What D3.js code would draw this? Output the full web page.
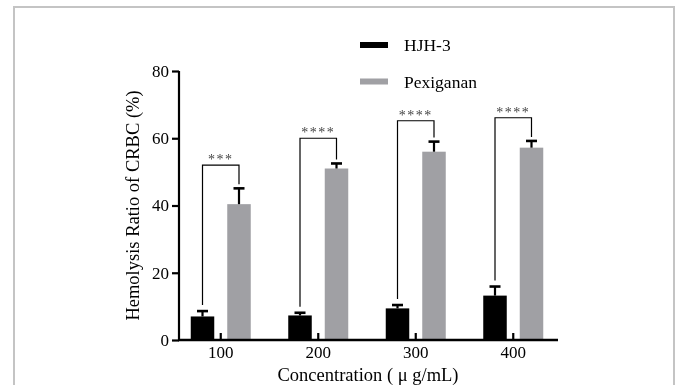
<!DOCTYPE html>
<html>
<head>
<meta charset="utf-8">
<script src="https://cdn.jsdelivr.net/npm/d3@7"></script>
<style>
  html, body { margin: 0; padding: 0; background: #fff; }
  svg { display: block; will-change: transform; }
  svg text { font-family: "Liberation Serif", "Times New Roman", serif; }
</style>
</head>
<body>
<div id="chart"></div>
<script>
// concentrations on the x axis
const categories = ['100', '200', '300', '400'];
const seriesNames = ['HJH-3', 'Pexiganan'];

// mean hemolysis ratio (%) and upper error (mean + SD)
const hjhValues = [7.0, 7.3, 9.4, 13.2];
const hjhErrors = [8.6, 8.1, 10.4, 15.9];
const pexValues = [40.4, 51.0, 56.0, 57.2];
const pexErrors = [45.1, 52.5, 59.0, 59.2];

// significance brackets: level of the top bar and stars
const sigTops = [52, 60, 65.2, 66.1];
const sigLabels = ['***', '****', '****', '****'];

const yTicks = [0, 20, 40, 60, 80];
const colors = {'HJH-3': '#000000', 'Pexiganan': '#a0a0a4'};

const W = 681, H = 385;
const svg = d3.select('#chart').append('svg')
  .attr('width', W)
  .attr('height', H);

// outer frame (no bottom edge visible)
svg.append('path')
  .attr('d', `M14,${H} L14,7 L674,7 L674,${H}`)
  .attr('fill', 'none')
  .attr('stroke', '#c4c4c4')
  .attr('stroke-width', 2);

const yScale = d3.scaleLinear().domain([0, 80]).range([340, 71]);
const xScale = d3.scaleBand().domain(categories).range([172, 562]);
const sub = d3.scaleBand().domain(seriesNames).range([-30, 30]).paddingInner(0.356);
const cx = c => xScale(c) + xScale.bandwidth() / 2;

const data = categories.map((c, i) => ({
  cat: c,
  bars: [
    {name: 'HJH-3', value: hjhValues[i], err: hjhErrors[i]},
    {name: 'Pexiganan', value: pexValues[i], err: pexErrors[i]}
  ],
  sig: sigTops[i],
  label: sigLabels[i]
}));

// y axis
const yAxis = svg.append('g')
  .attr('transform', 'translate(179,0)')
  .call(d3.axisLeft(yScale).tickValues(yTicks).tickSize(7).tickPadding(3).tickFormat(d3.format('d')));
yAxis.select('.domain').attr('stroke-width', 2.2).attr('d', `M0,${yScale(80)}V${yScale(0)}`);
yAxis.selectAll('.tick line').attr('stroke-width', 2.2);
yAxis.selectAll('.tick text').attr('font-size', 17).attr('fill', '#000');

// bars
const groups = svg.append('g').selectAll('g')
  .data(data)
  .join('g')
  .attr('transform', d => `translate(${cx(d.cat)},0)`);

groups.selectAll('rect')
  .data(d => d.bars)
  .join('rect')
  .attr('x', d => sub(d.name))
  .attr('y', d => yScale(d.value))
  .attr('width', sub.bandwidth())
  .attr('height', d => yScale(0) - yScale(d.value))
  .attr('fill', d => colors[d.name]);

// error bars (upper only)
groups.selectAll('line.err')
  .data(d => d.bars)
  .join('line')
  .attr('class', 'err')
  .attr('x1', d => sub(d.name) + sub.bandwidth() / 2)
  .attr('x2', d => sub(d.name) + sub.bandwidth() / 2)
  .attr('y1', d => yScale(d.value))
  .attr('y2', d => yScale(d.err))
  .attr('stroke', '#000')
  .attr('stroke-width', 2.2);

groups.selectAll('line.cap')
  .data(d => d.bars)
  .join('line')
  .attr('class', 'cap')
  .attr('x1', d => sub(d.name) + sub.bandwidth() / 2 - 5.5)
  .attr('x2', d => sub(d.name) + sub.bandwidth() / 2 + 5.5)
  .attr('y1', d => yScale(d.err))
  .attr('y2', d => yScale(d.err))
  .attr('stroke', '#000')
  .attr('stroke-width', 2.6);

// significance brackets
groups.append('path')
  .attr('d', d => {
    const xl = sub('HJH-3') + sub.bandwidth() / 2;
    const xr = sub('Pexiganan') + sub.bandwidth() / 2;
    return `M${xl},${yScale(d.bars[0].err) - 6}V${yScale(d.sig)}H${xr}V${yScale(d.bars[1].err) - 4}`;
  })
  .attr('fill', 'none')
  .attr('stroke', '#000')
  .attr('stroke-width', 1.2);

groups.append('text')
  .attr('x', 0)
  .attr('y', d => yScale(d.sig) - 1)
  .attr('text-anchor', 'middle')
  .attr('font-size', 14)
  .attr('letter-spacing', 1.5)
  .attr('fill', '#444')
  .text(d => d.label);

// x axis
const xAxis = svg.append('g')
  .attr('transform', `translate(0,${yScale(0)})`)
  .call(d3.axisBottom(xScale).tickSize(0).tickPadding(6));
xAxis.select('.domain').attr('stroke-width', 2.4).attr('d', 'M178,0H558');
xAxis.selectAll('.tick text').attr('font-size', 17).attr('fill', '#000');
xAxis.selectAll('.tick').append('line')
  .attr('y1', 0).attr('y2', -7)
  .attr('stroke', '#000')
  .attr('stroke-width', 2.2);

// axis titles
svg.append('text')
  .attr('transform', `translate(139,${(yScale(0) + yScale(80)) / 2}) rotate(-90)`)
  .attr('text-anchor', 'middle')
  .attr('font-size', 18.5)
  .text('Hemolysis Ratio of CRBC (%)');

svg.append('text')
  .attr('x', 368)
  .attr('y', 381)
  .attr('text-anchor', 'middle')
  .attr('font-size', 18.5)
  .text('Concentration ( μ g/mL)');

// legend
const legend = svg.append('g').selectAll('g')
  .data(seriesNames)
  .join('g')
  .attr('transform', (d, i) => `translate(360,${45 + i * 36.5})`);
legend.append('rect')
  .attr('x', 0).attr('y', -3)
  .attr('width', 28).attr('height', 6)
  .attr('fill', d => colors[d]);
legend.append('text')
  .attr('x', 44).attr('y', 0)
  .attr('dy', '0.35em')
  .attr('font-family', '"Liberation Serif", serif')
  .attr('font-size', 17.5)
  .text(d => d);
</script>
</body>
</html>
